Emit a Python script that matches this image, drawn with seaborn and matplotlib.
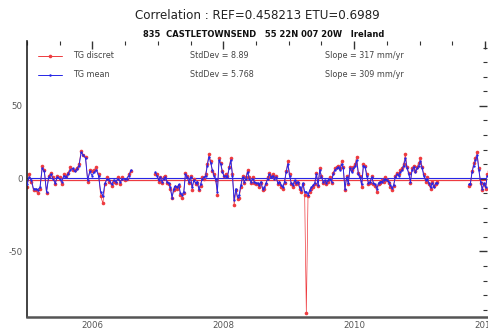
import numpy as np
import pandas as pd
import matplotlib
matplotlib.use("Agg")
import matplotlib.pyplot as plt
from matplotlib.ticker import MultipleLocator, FixedLocator
from matplotlib.lines import Line2D
import seaborn as sns

# ---------------- data ----------------
title = "Correlation : REF=0.458213 ETU=0.6989"
subtitle = "835  CASTLETOWNSEND   55 22N 007 20W   Ireland"
series_names = ["TG discret", "TG mean"]
stddev_labels = ["StdDev = 8.89", "StdDev = 5.768"]
slope_labels = ["Slope = 317 mm/yr", "Slope = 309 mm/yr"]

# segment time spans (decimal years)
seg_spans = [(2005.0, 2006.59), (2006.96, 2011.27), (2011.75, 2012.06)]

# mean levels (horizontal lines)
mean_discret = -0.65
mean_mean = 0.45

# TG mean (blue)
mean_seg1 = [-4, 1, -1, -7, -7, -7.5, -6, 7, 5, -9, 1, 3, 0, -3, 1, 0, -2, 2, 1, 3.5,
             6, 7, 5, 6.5, 9, 18, 16, 14, -1, 5, 2, 4.5, 6, 2, -9, -12, -3, 0, -1, -4,
             -1, -2, 0, -2, 0, 0, 0, 2, 6]
mean_seg2 = [4.5, 2, -1, 1, -2, 0, 1, -2, -3, -6, -13, -7, -5, -6, -4, -10, -11, -9,
             3, 1, -2, 1, -6, -1, -3, -2, -7, -4,
             0, 1, 1.5, 9, 15, 11, 6, 2, 0, -9,
             12.5, 10, 4.5, 1.5, 2, 1, 7, 12.5, 2, -15,
             -7, -12.5, -11, -4.5, 1, -2, 0, 4.5, 0, -2,
             0, -2, -3, -3, -4.5, -2, -7, -6, -3, 0,
             3, 1, 2, 0, 1, -3, -2, -4.5, -6, -2,
             4.5, 10, 2, -3, -4.5, -1, -3, -2, -6, -8,
             -3, -9, -9, -11, -8, -6, -4.5, -3, 3, -4.5,
             6, 1, -2, -1, -3, -1, 0, -2, 3, 6,
             7, 8,
             6, 10, 7, -7, 1, -3, 7, 4.5, 7, 8.5,
             12.5, 3, 1, -4, 9, 8, 2, -3, -2, 1,
             -3, -4, -7, -3, -2, -2, -1, 0, -1, -2,
             -4.5, -6.5, -4.5, 1, 3, 2, 4.5, 6, 9, 14,
             7, 3.5, -2, 6, 8, 4.5, 7, 9, 12, 7,
             2, -1, 0, -3, -6, -3, -6, -3, -3]
mean_seg3 = [-4, -3.5, 4.5, 9, 12.5, 16, 6, -2, -7, -3, -6, 2, 4]

# TG discret (red)
disc_seg1 = [-6, 3, -2, -8, -8, -10, -7, 9, 6, -10, 2, 4, 1, -4, 2, 1, -4, 3, 2, 4,
             8, 6, 6, 7, 10, 19, 16, 15, -2, 6, 5, 6, 8, 3, -12, -17, -4, 1, -2, -5,
             -2, -3, 1, -4, 1, -1, 0, 3, 5]
disc_seg2 = [3, 3, -2, 1, -3, 1, 2, -3, -4, -7, -13, -8, -6, -7, -5, -11, -13, -10,
             4, 2, -3, 2, -8, 0, -4, -3, -8, -5,
             1, 0, 3, 10, 17, 12, 5, 3, -1, -11,
             14, 11, 5, 2, 3, 2, 8, 14, 3, -18,
             -8, -14, -13, -6, 2, -3, 1, 6, 1, -3,
             1, -3, -4, -4, -6, -3, -8, -7, -4, 1,
             4, 2, 3, 1, 2, -4, -3, -6, -7, -3,
             5, 12, 3, -4, -6, -2, -4, -3, -7, -9,
             -4, -11, -92, -12, -9, -7, -6, -4, 4, -5,
             7, 2, -3, -2, -4, -2, 1, -3, 4, 7,
             8, 9,
             7, 12, 8, -8, 2, -4, 8, 6, 8, 10,
             15, 4, 2, -6, 10, 9, 3, -4, -3, 2,
             -4, -5, -9, -4, -3, -1, -2, 1, -1, -3,
             -6, -8, -5, 2, 4, 3, 6, 7, 10, 17,
             8, 4, -3, 7, 9, 5, 8, 11, 14, 8,
             3, -2, 1, -4, -7, -2, -5, -4, -2]
disc_seg3 = [-5, -4, 5, 11, 14, 18, 7, -3, -8, -4, -7, 3, 5]

x_major = [2006, 2008, 2010, 2012]
y_major = [-50, 0, 50]


def build(segs):
    frames = []
    for i, (vals, (t0, t1)) in enumerate(zip(segs, seg_spans)):
        t = np.linspace(t0, t1, len(vals))
        frames.append(pd.DataFrame({"t": t, "val": vals, "seg": i}))
    return pd.concat(frames, ignore_index=True)


df_disc = build([disc_seg1, disc_seg2, disc_seg3])
df_mean = build([mean_seg1, mean_seg2, mean_seg3])

# ---------------- plot ----------------
sns.set_style("white")
plt.rcParams["font.family"] = ["DejaVu Sans"]

fig = plt.figure(figsize=(4.88, 3.29), dpi=100)
ax = fig.add_axes([27 / 488, 12 / 329, 460 / 488, 276 / 329])

red = "#ee3b3f"
blue = "#2626e6"

ax.axhline(mean_discret, color=red, lw=0.9, zorder=1)
ax.axhline(mean_mean, color=blue, lw=0.8, zorder=1)

sns.lineplot(data=df_disc, x="t", y="val", units="seg", estimator=None, ax=ax,
             color=red, lw=0.5, marker="o", markersize=2.6, markeredgewidth=0,
             sort=False, zorder=2, legend=False)
sns.lineplot(data=df_mean, x="t", y="val", units="seg", estimator=None, ax=ax,
             color=blue, lw=0.7, marker="o", markersize=1.7, markeredgewidth=0,
             sort=False, zorder=3, legend=False)

ax.set_xlim(2005.0, 2012.03)
ax.set_ylim(-95, 94.5)
ax.set_xlabel("")
ax.set_ylabel("")

ax.xaxis.set_major_locator(FixedLocator(x_major))
ax.xaxis.set_minor_locator(MultipleLocator(0.5))
ax.yaxis.set_major_locator(FixedLocator(y_major))
ax.yaxis.set_minor_locator(MultipleLocator(10))
ax.set_xticklabels([str(v) for v in x_major])
ax.set_yticklabels([str(v) for v in y_major])

ax.tick_params(which="both", direction="in", top=True, right=True,
               colors="#333333", labelcolor="#555555", labelsize=6.2)
ax.tick_params(which="major", length=6, width=1.0, pad=3)
ax.tick_params(which="minor", length=3, width=0.8)

for side in ["top", "right"]:
    ax.spines[side].set_visible(False)
ax.spines["left"].set_color("#222222")
ax.spines["left"].set_linewidth(1.2)
ax.spines["bottom"].set_color("#555555")
ax.spines["bottom"].set_linewidth(1.8)

# legend-like header rows
rows_y = [0.946, 0.877]
colors = [red, blue]
msz = [2.6, 1.8]
for y, name, sd, sl, c, m in zip(rows_y, series_names, stddev_labels, slope_labels, colors, msz):
    ax.add_line(Line2D([0.024, 0.076], [y, y], transform=ax.transAxes, color=c, lw=0.7))
    ax.add_line(Line2D([0.05], [y], transform=ax.transAxes, color=c, marker="o",
                       markersize=m, markeredgewidth=0))
    ax.text(0.100, y, name, transform=ax.transAxes, fontsize=5.8, color="#444444", va="center")
    ax.text(0.354, y, sd, transform=ax.transAxes, fontsize=5.8, color="#444444", va="center")
    ax.text(0.648, y, sl, transform=ax.transAxes, fontsize=5.8, color="#444444", va="center")

fig.text(0.528, 0.953, title, ha="center", va="center", fontsize=8.6, color="#222222")
fig.text(0.54, 0.896, subtitle, ha="center", va="center", fontsize=6.0,
         fontweight="bold", color="#111111")

fig.savefig("out.png", dpi=100)
